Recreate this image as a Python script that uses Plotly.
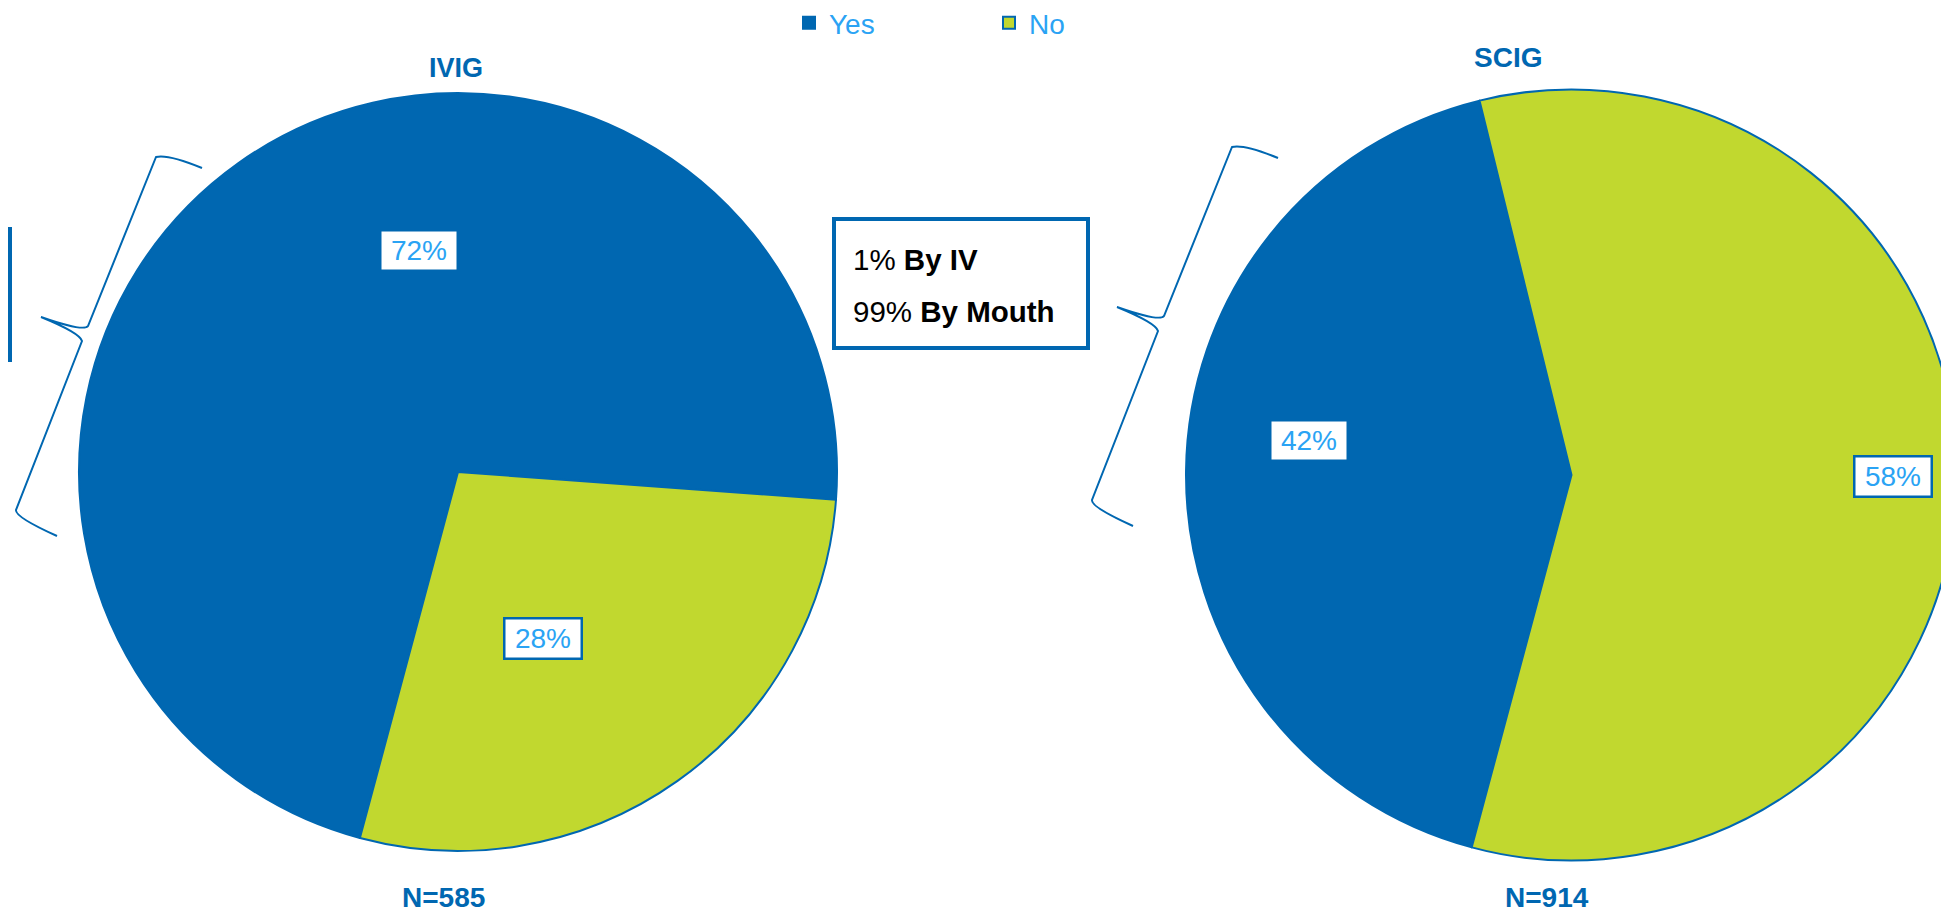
import plotly.graph_objects as go

# ---------------- data ----------------
categories = ["Yes", "No"]
ivig_values = [72, 28]
scig_values = [42, 58]
pie_titles = ["IVIG", "SCIG"]
sample_sizes = [585, 914]
route_pct = [1, 99]
route_labels = ["By IV", "By Mouth"]

# ---------------- style ----------------
W, H = 1949, 914
OFF = 8  # page body margin offset in the browser
BLUE = "#0067B1"
GREEN = "#C1D82F"
LIGHT = "#2AA3F4"
FONT = "Arial, Liberation Sans, sans-serif"


def px(x):
    return (x - OFF) / W


def py(y):
    return 1 - (y - OFF) / H


fig = go.Figure()

fig.add_trace(go.Pie(
    labels=categories, values=ivig_values, name=pie_titles[0],
    sort=False, direction="clockwise", rotation=195,
    marker=dict(colors=[BLUE, GREEN], line=dict(color=BLUE, width=2)),
    textinfo="none", hoverinfo="label+percent",
    domain=dict(x=[px(79), px(837)], y=[py(851), py(93)]),
))
fig.add_trace(go.Pie(
    labels=categories, values=scig_values, name=pie_titles[1],
    sort=False, direction="clockwise", rotation=195,
    marker=dict(colors=[BLUE, GREEN], line=dict(color=BLUE, width=2)),
    textinfo="none", hoverinfo="label+percent",
    domain=dict(x=[px(1186), 1.0], y=[py(861), py(89)]),
))

annotations = []

# pie titles and sample sizes
title_pos = [(456, 68, 27), (1508, 58, 28)]
n_pos = [(443, 897), (1547, 897)]
for t, (tx, ty, fs), n, (nx, ny) in zip(pie_titles, title_pos, sample_sizes, n_pos):
    annotations.append(dict(x=px(tx), y=py(ty), xref="paper", yref="paper",
                            xanchor="center", yanchor="middle",
                            text=f"<b>{t}</b>", showarrow=False,
                            font=dict(family=FONT, size=fs, color=BLUE)))
    annotations.append(dict(x=px(nx), y=py(ny), xref="paper", yref="paper",
                            xanchor="center", yanchor="middle",
                            text=f"<b>N={n}</b>", showarrow=False,
                            font=dict(family=FONT, size=28, color=BLUE)))

# boxed percentage labels
label_pos = {
    ("IVIG", "Yes"): (419, 250), ("IVIG", "No"): (543, 638),
    ("SCIG", "Yes"): (1309, 440), ("SCIG", "No"): (1893, 476),
}
for title, vals in zip(pie_titles, [ivig_values, scig_values]):
    for cat, v in zip(categories, vals):
        lx, ly = label_pos[(title, cat)]
        annotations.append(dict(
            x=px(lx), y=py(ly), xref="paper", yref="paper",
            xanchor="center", yanchor="middle",
            text=f"{v}%", showarrow=False, width=73, height=36,
            bgcolor="white", bordercolor=BLUE, borderwidth=2.5, borderpad=1,
            font=dict(family=FONT, size=28, color=LIGHT)))

# route of administration box text
for i, (p, lab) in enumerate(zip(route_pct, route_labels)):
    annotations.append(dict(
        x=px(851), y=py(259 + 52 * i), xref="paper", yref="paper",
        xanchor="left", yanchor="middle", showarrow=False,
        text=f"{p}% <b>{lab}</b>",
        font=dict(family=FONT, size=29.5, color="black")))

shapes = []
# route box (middle) and cut-off box at left edge
shapes.append(dict(type="rect", xref="paper", yref="paper",
                   x0=px(834), x1=px(1088), y0=py(219), y1=py(348),
                   line=dict(color=BLUE, width=4), fillcolor="rgba(0,0,0,0)"))
shapes.append(dict(type="rect", xref="paper", yref="paper",
                   x0=px(-60), x1=px(10), y0=py(229), y1=py(360),
                   line=dict(color=BLUE, width=4), fillcolor="rgba(0,0,0,0)"))

# curly braces
brace = [("M", [(202, 168)]),
         ("Q", [(168, 154), (156, 157)]),
         ("L", [(88, 326)]),
         ("Q", [(84, 332), (41, 317)]),
         ("Q", [(80, 333), (82, 341)]),
         ("L", [(16, 510)]),
         ("Q", [(15, 517), (57, 536)])]


def brace_path(dx, dy):
    parts = []
    for cmd, pts in brace:
        coords = " ".join(f"{px(x + dx):.5f},{py(y + dy):.5f}" for x, y in pts)
        parts.append(f"{cmd} {coords}")
    return " ".join(parts)


for dx, dy in [(0, 0), (1076, -10)]:
    shapes.append(dict(type="path", xref="paper", yref="paper",
                       path=brace_path(dx, dy),
                       line=dict(color=BLUE, width=2)))

fig.update_layout(
    width=W, height=H,
    margin=dict(l=0, r=0, t=0, b=0, autoexpand=False),
    paper_bgcolor="white", plot_bgcolor="white",
    showlegend=True,
    legend=dict(orientation="h", x=px(789), xanchor="left",
                y=1 + 10 / H, yanchor="top",
                entrywidth=155, entrywidthmode="pixels",
                font=dict(family=FONT, size=28, color=LIGHT),
                bgcolor="rgba(0,0,0,0)"),
    annotations=annotations,
    shapes=shapes,
)

fig.write_html("out.html")
